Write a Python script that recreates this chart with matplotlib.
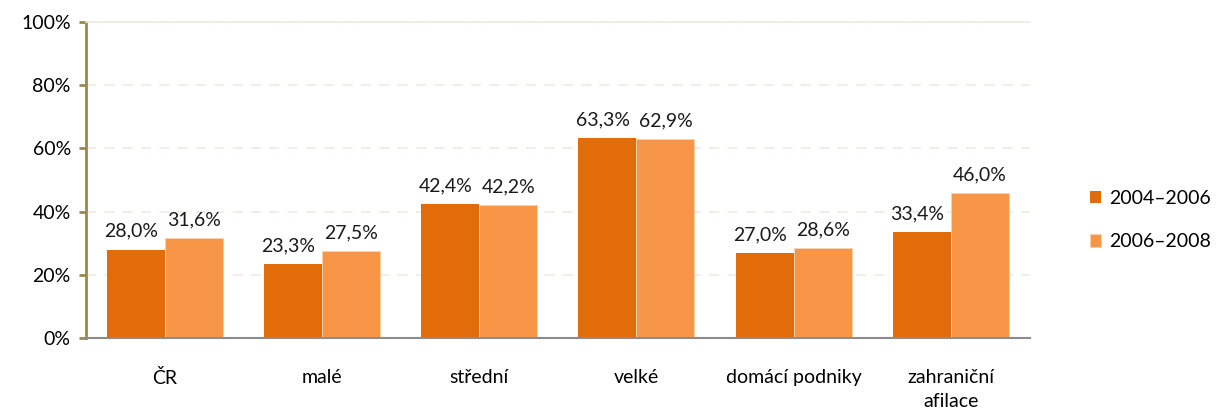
import matplotlib.pyplot as plt
import numpy as np

plt.rcParams['font.family'] = ['Lato', 'DejaVu Sans']

# data
kategorie = ["ČR", "malé", "střední", "velké", "domácí podniky", "zahraniční\nafilace"]
obdobi_1 = [28.0, 23.3, 42.4, 63.3, 27.0, 33.4]
obdobi_2 = [31.6, 27.5, 42.2, 62.9, 28.6, 46.0]
legenda = ["2004–2006", "2006–2008"]

barva_1 = '#E36C0A'
barva_2 = '#F79646'
fs = 14

fig = plt.figure(figsize=(12.17, 4.12), dpi=100)
ax = fig.add_axes([0.0707, 0.1796, 0.7753, 0.767])

x = np.arange(len(kategorie))
w = 0.369
b1 = ax.bar(x - w / 2, obdobi_1, w, color=barva_1, label=legenda[0], zorder=3)
b2 = ax.bar(x + w / 2, obdobi_2, w, color=barva_2, label=legenda[1], zorder=3,
            edgecolor='#FBD0AE', linewidth=0.6)

def fmt(v):
    return f"{v:.1f}%".replace('.', ',')

for rects, vals, dx in ((b1, obdobi_1, -0.03), (b2, obdobi_2, 0.0)):
    for r, v in zip(rects, vals):
        ax.annotate(fmt(v), (r.get_x() + r.get_width() / 2 + dx, v),
                    xytext=(0, 7), textcoords='offset points',
                    ha='center', va='bottom', fontsize=fs, color='#1a1a1a')

ax.set_xlim(-0.5, len(kategorie) - 0.5)
ax.set_ylim(0, 100)
ax.set_yticks(range(0, 101, 20))
ax.set_yticklabels([f"{t}%" for t in range(0, 101, 20)])
ax.set_xticks(x)
ax.set_xticklabels(kategorie, linespacing=1.5)

ax.yaxis.grid(True, color='#EEEBE0', linestyle=(0, (6, 5)), linewidth=1.2, zorder=0)
ax.tick_params(axis='y', length=5, width=2, color='#968A50', labelsize=fs, pad=6)
ax.tick_params(axis='x', length=0, labelsize=fs, pad=22)

ax.spines['left'].set_color('#968A50')
ax.spines['left'].set_linewidth(2)
ax.spines['bottom'].set_color('#8C8C8C')
ax.spines['bottom'].set_linewidth(1.5)
ax.spines['bottom'].set_zorder(4)
ax.spines['top'].set_color('#EEEBE0')
ax.spines['top'].set_linewidth(1.2)
ax.spines['right'].set_visible(False)

ax.legend(loc='center left', bbox_to_anchor=(1.045, 0.373), frameon=False,
          fontsize=fs, handlelength=0.6, handleheight=0.6, handletextpad=0.4,
          labelspacing=1.35)

fig.savefig('out.png', dpi=100)
